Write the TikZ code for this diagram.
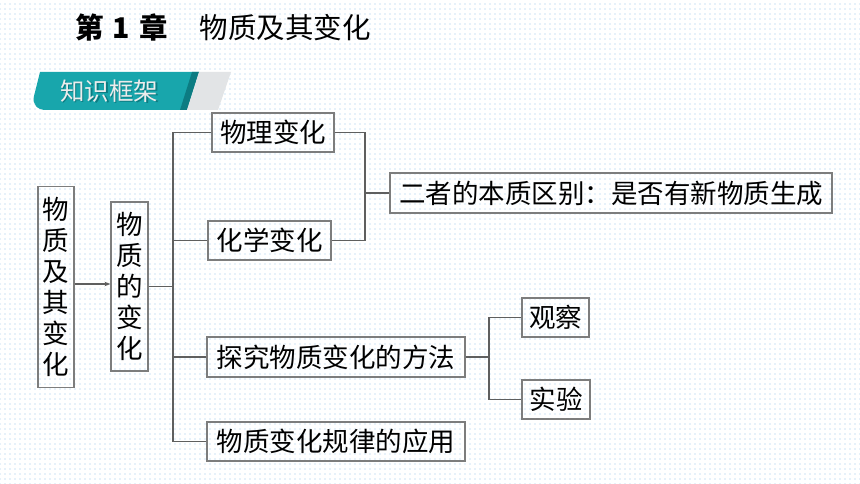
\documentclass[tikz,border=0pt]{standalone}
\usepackage{fontspec}
\setmainfont{Noto Sans CJK SC}
\usetikzlibrary{patterns.meta,arrows.meta}
\definecolor{dotblue}{RGB}{150,195,235}
\definecolor{teal1}{RGB}{24,166,172}
\definecolor{teal2}{RGB}{12,124,130}
\definecolor{bannergray}{RGB}{226,228,230}
\definecolor{linegray}{RGB}{95,95,95}
\definecolor{boxgray}{RGB}{125,125,125}
\tikzset{
  box/.style={draw=boxgray, line width=1.2pt, inner sep=0pt, align=center,
    font=\fontsize{26.5}{31}\selectfont},
  conn/.style={draw=linegray, line width=1.1pt},
}
\begin{document}
\begin{tikzpicture}[x=1pt,y=-1pt]
\useasboundingbox (0,0) rectangle (860,484);
\fill[white] (0,0) rectangle (860,484);
\fill[pattern={Dots[distance=5pt,radius=0.6pt]}, pattern color=dotblue] (0,0) rectangle (860,484);

% title
\node[anchor=west, inner sep=0pt, font=\fontsize{28.5}{28.5}\selectfont] (title) at (75,28)
  {{\bfseries 第\hspace{9pt}1\hspace{9pt}章}\hspace{32pt}物质及其变化};

% banner
\fill[teal1] (40,72) -- (199,72) -- (187,110) -- (46,110)
  .. controls (37,110) and (32,104) .. (34,96) -- cycle;
\fill[teal2] (192,72) -- (199,72) -- (187,110) -- (180,110) -- cycle;
\fill[bannergray] (199,72) -- (231,72) -- (218,110) -- (187,110) -- cycle;
\node[inner sep=0pt, font=\fontsize{24.5}{24.5}\selectfont, text=teal2] at (110.5,92.5) {知识框架};
\node[inner sep=0pt, font=\fontsize{24.5}{24.5}\selectfont, text=white!85!gray] (bt) at (109,91) {知识框架};

% nodes
\node[box, minimum width=36pt, minimum height=201pt] (n0) at (56,287) {物\\质\\及\\其\\变\\化};
\node[box, minimum width=37pt, minimum height=169pt] (n1) at (129.5,286.5) {物\\质\\的\\变\\化};
\node[box, minimum width=122pt, minimum height=39pt] (a) at (273,132.5) {物理变化};
\node[box, minimum width=123pt, minimum height=39pt] (b) at (269.5,240.5) {化学变化};
\node[box, minimum width=442pt, minimum height=40pt] (c) at (611,193) {二者的本质区别：是否有新物质生成};
\node[box, minimum width=258pt, minimum height=40pt] (d) at (336,357) {探究物质变化的方法};
\node[box, minimum width=258pt, minimum height=39pt] (e) at (336,441.5) {物质变化规律的应用};
\node[box, minimum width=67pt, minimum height=39pt] (f) at (555.5,317.5) {观察};
\node[box, minimum width=68pt, minimum height=39pt] (g) at (556,399.5) {实验};

\coordinate (vx) at (173,0);
\coordinate (bx) at (365,0);
\coordinate (mx) at (489,0);

% connectors
\draw[conn, -{Stealth[length=6pt,width=4.5pt]}, draw=linegray] (n0.east |- 0,284) -- (n1.west |- 0,284);
\draw[conn] (n1.east) -- (n1.east -| vx);
\draw[conn] (a.west) -- (a.west -| vx) -- (e.west -| vx) -- (e.west);
\draw[conn] (b.west) -- (b.west -| vx);
\draw[conn] (d.west) -- (d.west -| vx);
\draw[conn] (a.east) -- (a.east -| bx) -- (b.east -| bx) -- (b.east);
\draw[conn] (c.west -| bx) -- (c.west);
\draw[conn] (f.west) -- (f.west -| mx) -- (g.west -| mx) -- (g.west);
\draw[conn] (d.east) -- (d.east -| mx);
\end{tikzpicture}
\end{document}
